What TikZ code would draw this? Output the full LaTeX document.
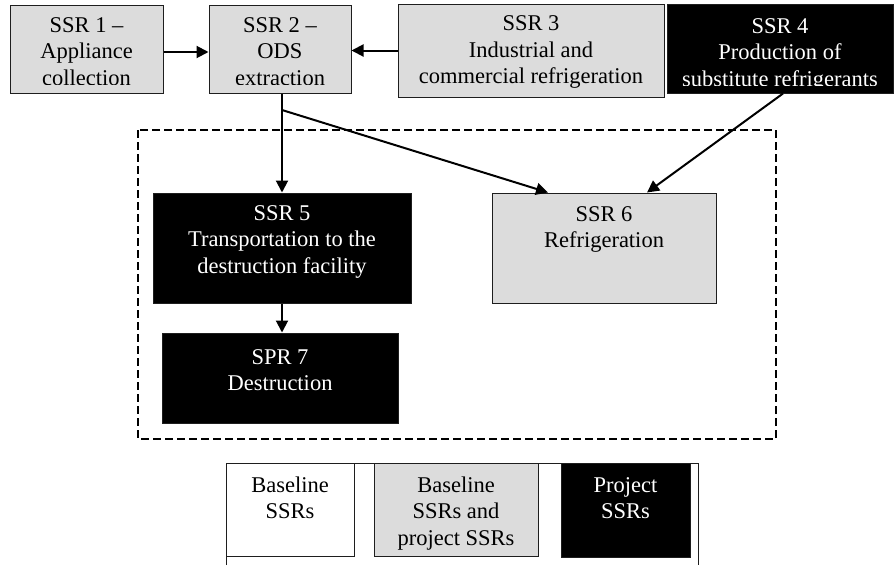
\documentclass[tikz,border=0pt]{standalone}
\usepackage{fontspec}
\setmainfont{Liberation Serif}
\usetikzlibrary{arrows.meta}
\definecolor{boxgray}{RGB}{220,220,220}
\definecolor{edgeline}{RGB}{30,30,30}
\newcommand\firststrut{\rule{0pt}{18pt}}
\tikzset{
  box/.style={draw=edgeline, line width=1pt, inner sep=0pt},
  greybox/.style={box, fill=boxgray},
  darkbox/.style={box, fill=black},
  plainbox/.style={box, fill=white},
  boxtext/.style={align=center, inner sep=0pt, anchor=north,
    font=\fontsize{22.5}{26.5}\selectfont},
  flow/.style={line width=2pt, -{Triangle[length=12pt,width=12pt]}},
  boundary/.style={line width=2pt, dash pattern=on 8pt off 4pt},
}
\begin{document}
\begin{tikzpicture}[x=1pt, y=-1pt]
\useasboundingbox (0,0) rectangle (896,565);

% boundary of the project
\draw[boundary] (138,130) rectangle (776,439);

% upstream sources, sinks and reservoirs
\node[greybox, minimum width=153pt, minimum height=88pt] (b1) at (86.5,49) {};
\node[greybox, minimum width=142pt, minimum height=88pt] (b2) at (280,49) {};
\node[greybox, minimum width=266pt, minimum height=93pt] (b3) at (531,50.5) {};
\node[darkbox, minimum width=226pt, minimum height=89pt] (b4) at (780,48.5) {};

% the text frames of these boxes cut off the last line
\begin{scope}
  \clip (10,5) rectangle (351,84.5);
  \node[boxtext] (t1) at (86.5,14) {\firststrut SSR 1 –\\Appliance\\collection};
  \node[boxtext] (t2) at (280,14) {\firststrut SSR 2 –\\ODS\\extraction};
\end{scope}
\node[boxtext] (t3) at (531,12.5) {\firststrut SSR 3\\Industrial and\\commercial refrigeration};
\begin{scope}
  \clip (667,4) rectangle (893,85.5);
  \node[boxtext, text=white] (t4) at (780,15) {\firststrut SSR 4\\Production of\\substitute refrigerants};
\end{scope}

% project sources, sinks and reservoirs
\node[darkbox, minimum width=258pt, minimum height=110pt] (s5) at (282,248) {};
\node[greybox, minimum width=224pt, minimum height=110pt] (s6) at (604,248) {};
\node[darkbox, minimum width=236pt, minimum height=90pt] (s7) at (280,378) {};

\node[boxtext, text=white] (t5) at (282,202) {\firststrut SSR 5\\Transportation to the\\destruction facility};
\node[boxtext] (t6) at (604,203) {\firststrut SSR 6\\Refrigeration};
\node[boxtext, text=white] (t7) at (280,346) {\firststrut SPR 7\\Destruction};

% flows
\draw[flow] ([yshift=-3pt]b1.east) -- ([yshift=-3pt]b1.east -| b2.west);
\draw[flow] (b3.west) -- (b3.west -| b2.east);
\draw[flow] (s5.north |- b2.south) -- (s5.north);
\coordinate (fork) at (282,110);
\draw[flow] (fork) -- ([xshift=-56pt]s6.north);
\draw[flow] ([xshift=3pt]b4.south) -- ([xshift=43pt]s6.north);
\draw[flow] (s5.south) -- (s5.south |- s7.north);

% legend
\draw[edgeline, line width=1pt] (226,565) |- (698,463) -- (698,565);
\node[plainbox, minimum width=128pt, minimum height=93pt] (l1) at (290,509.5) {};
\node[greybox, minimum width=164pt, minimum height=93pt] (l2) at (456,509.5) {};
\node[darkbox, minimum width=129pt, minimum height=94pt] (l3) at (625.5,510) {};
\node[boxtext] (lt1) at (290,474) {\firststrut Baseline\\SSRs};
\node[boxtext] (lt2) at (456,474) {\firststrut Baseline\\SSRs and\\project SSRs};
\node[boxtext, text=white] (lt3) at (625.5,474) {\firststrut Project\\SSRs};
\end{tikzpicture}
\end{document}
